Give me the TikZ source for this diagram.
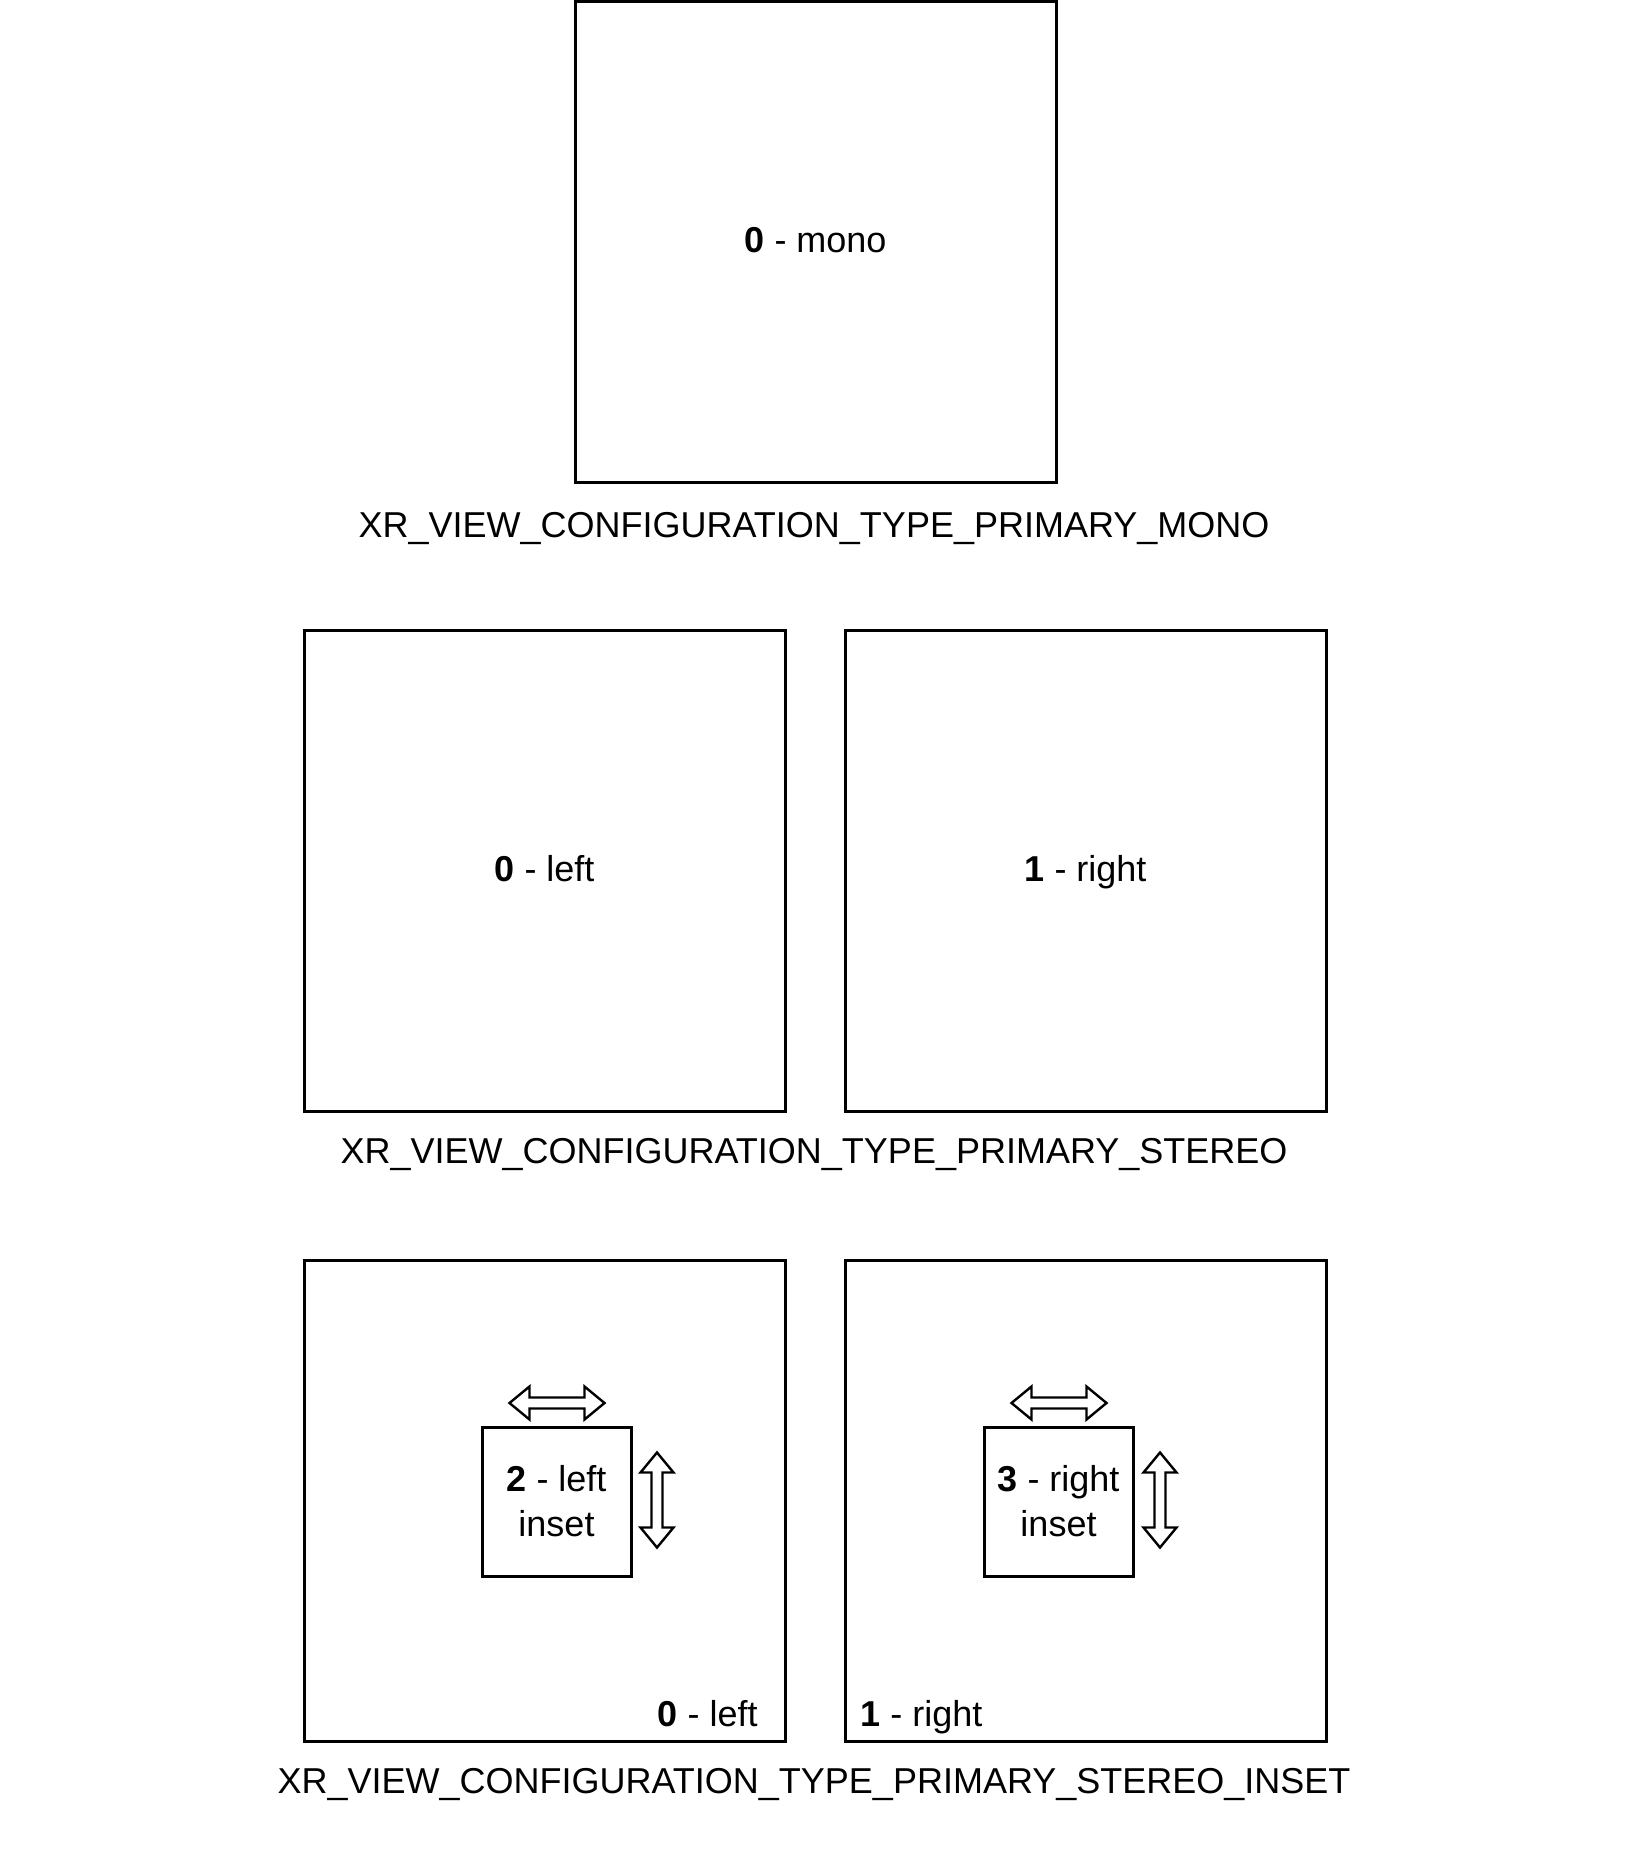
\documentclass[tikz,border=0pt]{standalone}
\usepackage{fontspec}
\setmainfont{Liberation Sans}
\usetikzlibrary{positioning}

\tikzset{
    view/.style={draw, line width=1.5pt, minimum width=240.5pt, minimum height=240.5pt, inner sep=0pt, text height=1.08em, text depth=0pt},
    insetbox/.style={draw, line width=1.5pt, minimum width=74.5pt, minimum height=74.5pt, inner sep=0pt, align=center},
    caption/.style={anchor=base, inner sep=0pt},
    flex/.style={draw, line width=1.2pt, fill=white, line join=miter},
    pics/dblarrow/.style={code={
        \draw [flex] ( -47.5, 0 ) -- ( -27.5, -16.5 ) -- ( -27.5, -5.5 ) -- ( 27.5, -5.5 ) -- ( 27.5, -16.5 ) -- ( 47.5, 0 )
            -- ( 27.5, 16.5 ) -- ( 27.5, 5.5 ) -- ( -27.5, 5.5 ) -- ( -27.5, 16.5 ) -- cycle;
    }}
}

\begin{document}
\begin{tikzpicture}[x=0.5pt, y=-0.5pt, font=\fontsize{18pt}{22.5pt}\selectfont]
            \useasboundingbox ( 0, 0 ) rectangle ( 1626, 1863 );

            % mono
            \node [view] (mono) at ( 815.5, 241.5 ) {\textbf{0} - mono};
            \node [caption] (monocap) at ( 814, 537 ) {XR\_VIEW\_CONFIGURATION\_TYPE\_PRIMARY\_MONO};

            % stereo
            \node [view] (left) at ( 544.5, 871 ) {\textbf{0} - left};
            \node [view] (right) at ( 1085.5, 871 ) {\textbf{1} - right};
            \node [caption] (stereocap) at ( 814, 1163.5 ) {XR\_VIEW\_CONFIGURATION\_TYPE\_PRIMARY\_STEREO};

            % stereo inset
            \node [view] (insleft) at ( 544.5, 1501 ) {};
            \node [view] (insright) at ( 1085.5, 1501 ) {};
            \node [anchor=base east, inner sep=0pt, xshift=-14.2pt, yshift=8.1pt] (leftlbl) at (insleft.south east) {\textbf{0} - left};
            \node [anchor=base west, inner sep=0pt, xshift=8.2pt, yshift=8.1pt] (rightlbl) at (insright.south west) {\textbf{1} - right};
            \node [insetbox] (leftinset) at ( 556.5, 1501.5 ) {\textbf{2} - left\\inset};
            \node [insetbox] (rightinset) at ( 1058.5, 1501.5 ) {\textbf{3} - right\\inset};
            \node [caption] (insetcap) at ( 814, 1793 ) {XR\_VIEW\_CONFIGURATION\_TYPE\_PRIMARY\_STEREO\_INSET};

            % стрелки
            \pic at ( 557, 1403 ) {dblarrow};
            \pic [rotate=90] at ( 657, 1500 ) {dblarrow};
            \pic at ( 1059, 1403 ) {dblarrow};
            \pic [rotate=90] at ( 1160, 1500 ) {dblarrow};
\end{tikzpicture}
\end{document}
